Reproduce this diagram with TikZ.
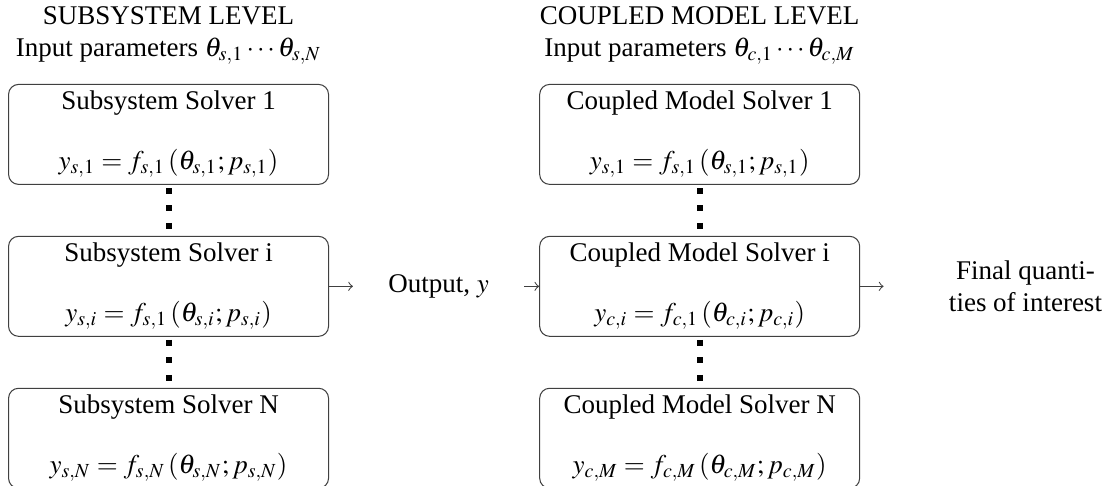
\documentclass[tikz,border=0pt]{standalone}
\usepackage{mathptmx}
\usepackage[no-math]{fontspec}
\setmainfont{Liberation Serif}
\usetikzlibrary{positioning}

\begin{document}
\begin{tikzpicture}[
    font=\fontsize{10.4pt}{12.5pt}\selectfont,
    solver/.style={draw=black!75, rounded corners=3.85pt, align=center, minimum width=123.2pt, minimum height=38.5pt, inner sep=0pt},
    head/.style={align=center, inner sep=0pt},
    dots/.style={line width=2.3pt, dash pattern=on 2.3pt off 4.4pt, shorten <=1.2pt},
    arrow/.style={->, draw=black!75}
  ]
    \node[solver] (sub1) {Subsystem Solver 1\\[10.5pt]$y_{s,1} = f_{s,1}\left(\theta_{s,1}; p_{s,1}\right)$};
    \node[solver, below=19.6pt of sub1] (subi) {Subsystem Solver i\\[10.5pt]$y_{s,i} = f_{s,1}\left(\theta_{s,i}; p_{s,i}\right)$};
    \node[solver, below=19.6pt of subi] (subN) {Subsystem Solver N\\[10.5pt]$y_{s,N} = f_{s,N}\left(\theta_{s,N}; p_{s,N}\right)$};

    \node[inner sep=0pt, minimum width=65.5pt, right=9.2pt of subi] (output) {Output, $y$};

    \node[solver, right=5.8pt of output] (cpli) {Coupled Model Solver i\\[10.5pt]$y_{c,i} = f_{c,1}\left(\theta_{c,i}; p_{c,i}\right)$};
    \node[solver, above=19.6pt of cpli] (cpl1) {Coupled Model Solver 1\\[10.5pt]$y_{s,1} = f_{s,1}\left(\theta_{s,1}; p_{s,1}\right)$};
    \node[solver, below=19.6pt of cpli] (cplM) {Coupled Model Solver N\\[10.5pt]$y_{c,M} = f_{c,M}\left(\theta_{c,M}; p_{c,M}\right)$};

    \node[align=center, inner ysep=0pt, inner xsep=25pt, right=9pt of cpli] (final) {Final quanti-\\ties of interest};

    \node[head, above=7.2pt of sub1] (subhead) {SUBSYSTEM LEVEL\\Input parameters $\theta_{s,1}\cdots\theta_{s,N}$};
    \node[head, above=7.2pt of cpl1] (cplhead) {COUPLED MODEL LEVEL\\Input parameters $\theta_{c,1}\cdots\theta_{c,M}$};

    \draw[dots] (sub1) -- (subi);
    \draw[dots] (subi) -- (subN);
    \draw[dots] (cpl1) -- (cpli);
    \draw[dots] (cpli) -- (cplM);

    \draw[arrow] (subi) -- (output);
    \draw[arrow] (output) -- (cpli);
    \draw[arrow] (cpli) -- (final);

    \pgfresetboundingbox
    \useasboundingbox ([xshift=-3.1pt, yshift=32.3pt]sub1.north west) rectangle ++(427.4pt,-187.1pt);
  \end{tikzpicture}
\end{document}
